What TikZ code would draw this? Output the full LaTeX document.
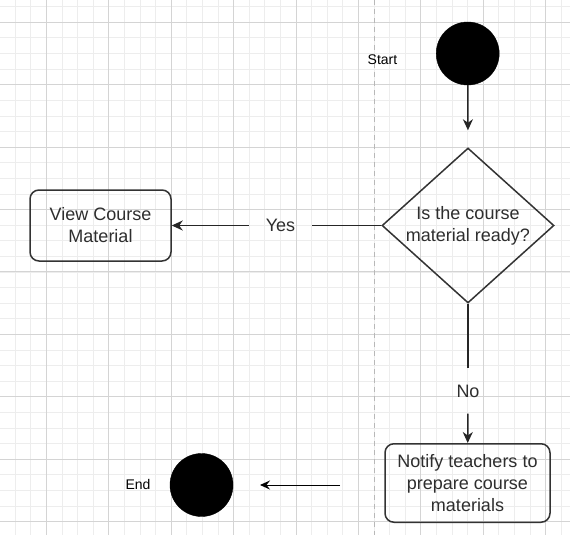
\documentclass[tikz,border=0pt]{standalone}
\usepackage{fontspec}
\setmainfont{Liberation Sans}
\usetikzlibrary{shapes.geometric,arrows.meta}
\begin{document}
\begin{tikzpicture}[x=1pt,y=-1pt,
  minorgrid/.style={draw=black!7,line width=0.8pt},
  majorgrid/.style={draw=black!17,line width=0.9pt},
  lane/.style={draw=black!28,line width=0.9pt,dash pattern=on 5pt off 4pt},
  txt/.style={font=\fontsize{18}{22}\selectfont,text=black!82},
  small/.style={font=\fontsize{14}{16}\selectfont,text=black},
  dot/.style={circle,fill=black,draw=black,minimum size=63pt,inner sep=0},
  act/.style={txt,draw=black!80,line width=1.5pt,rounded corners=9pt,align=center,inner sep=0},
  dec/.style={txt,diamond,draw=black!80,line width=1.5pt,align=center,inner sep=0,aspect=1.11,minimum width=172pt,minimum height=155pt},
  flow/.style={draw=black!85,line width=1.5pt},
  arr/.style={flow,-{Stealth[length=11pt,width=10pt,inset=3.5pt]}},
  thinarr/.style={draw=black,line width=1pt,-{Stealth[length=10pt,width=9pt,inset=3.5pt]}},
  lbl/.style={txt,inner sep=0}
]
\useasboundingbox (0,0) rectangle (570,535);
\fill[white] (0,0) rectangle (570,535);
% grid
\foreach \i in {-3,...,34} {
  \draw[minorgrid] ({46.4+\i*15.6},0) -- ({46.4+\i*15.6},535);
}
\foreach \i in {-1,...,34} {
  \draw[minorgrid] (0,{22.3+\i*15.6}) -- (570,{22.3+\i*15.6});
}
\foreach \i in {0,...,8} {
  \draw[majorgrid] ({46.4+\i*62.4},0) -- ({46.4+\i*62.4},535);
}
\foreach \i in {0,...,8} {
  \draw[majorgrid] (0,{22.3+\i*62.4}) -- (570,{22.3+\i*62.4});
}
\draw[lane] (374.5,0) -- (374.5,535);

% nodes
\node[dot] (start) at (467.7,53.5) {};
\node[small] (startlbl) at (382.5,60) {Start};
\node[dec] (dec) at (468,225.5) {Is the course\\material ready?};
\node[act, minimum width=141pt, minimum height=71pt] (view) at (100.5,225.5) {View Course\\Material};
\node[act, minimum width=165pt, minimum height=78.5pt] (notify) at (467.5,483) {Notify teachers to\\prepare course\\materials};
\node[dot] (end) at (201.5,485) {};
\node[small] (endlbl) at (138,484.5) {End};
\node[lbl, minimum width=63pt] (yes) at (280.5,225.5) {Yes};
\node[lbl, minimum height=45pt] (no) at (468,391) {No};
\coordinate (endfrom) at (340,485);
\coordinate (endto) at (260,485);

% connectors
\draw[arr, shorten >=17pt] (start) -- (dec.north);
\draw[flow] (dec.west) -- (yes);
\draw[arr] (yes) -- (view);
\draw[flow] (dec.south) -- (no);
\draw[arr] (no) -- (notify);
\draw[thinarr] (endfrom) -- (endto);
\end{tikzpicture}
\end{document}
